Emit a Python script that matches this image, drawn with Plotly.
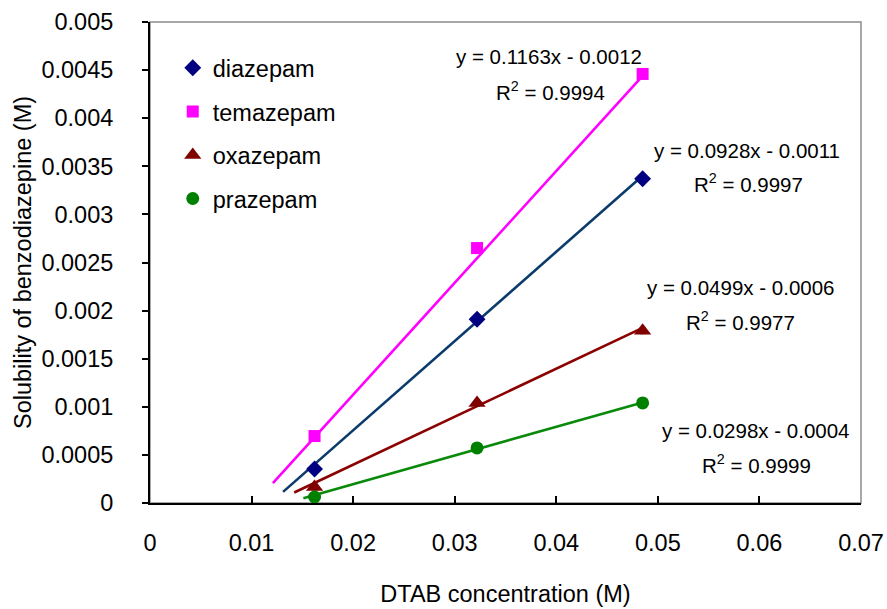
import plotly.graph_objects as go

# DTAB concentrations (M) at which solubility was measured
dtab_conc = [0.0162, 0.0322, 0.0485]

# Measured solubility of each benzodiazepine (M)
diazepam = [0.000353, 0.00191, 0.00337]
temazepam = [0.000696, 0.00265, 0.00446]
oxazepam = [0.000166, 0.00104, 0.00179]
prazepam = [0.0000624, 0.000572, 0.00104]

# Small standard deviations shown as error bars
err = [0.00003, 0.00003, 0.00003]

# Linear fits (slope, intercept, R^2) and the x where each fitted line begins
fit_slope = [0.0928, 0.1163, 0.0499, 0.0298]
fit_intercept = [-0.0011, -0.0012, -0.0006, -0.0004]
fit_r2 = [0.9997, 0.9994, 0.9977, 0.9999]
fit_start = [0.0131, 0.0121, 0.0142, 0.0151]

names = ["diazepam", "temazepam", "oxazepam", "prazepam"]
series = [diazepam, temazepam, oxazepam, prazepam]
marker_colors = ["#000080", "#FF00FF", "#800000", "#008000"]
line_colors = ["#0B3B6B", "#FF00FF", "#8B0000", "#0A8A0A"]
symbols = ["diamond", "square", "triangle-up", "circle"]
sizes = [13, 12, 15, 13]

FONT = "Liberation Sans, Arial, sans-serif"

# Plot-area geometry in pixels, used to place the fit labels in paper units
W, H = 887, 609
L, R, T, B = 150, 861, 22, 503


def px_to_paper(px, py):
    return (px - L) / (R - L), (B - py) / (B - T)


fig = go.Figure()

# Fitted straight lines
for i in range(4):
    xs = [fit_start[i], dtab_conc[-1]]
    ys = [fit_slope[i] * x + fit_intercept[i] for x in xs]
    fig.add_trace(go.Scatter(
        x=xs, y=ys, mode="lines",
        line=dict(color=line_colors[i], width=2.6),
        showlegend=False, hoverinfo="skip",
    ))

# Measured points
for i in range(4):
    fig.add_trace(go.Scatter(
        x=dtab_conc, y=series[i], mode="markers", name=names[i],
        legendgroup=names[i],
        marker=dict(symbol=symbols[i], color=marker_colors[i], size=sizes[i],
                    line=dict(width=0)),
        error_y=dict(type="data", array=err, color="#222222",
                     thickness=1, width=3),
    ))

# Fit equations and R^2 labels
label_pos = [
    ((747, 151), (748, 183)),
    ((549, 57), (550, 91)),
    ((740, 287), (740, 321)),
    ((755, 430), (756, 464)),
]
for i in range(4):
    eq = f"y = {fit_slope[i]:.4f}x - {abs(fit_intercept[i]):.4f}"
    r2 = f"R<sup>2</sup> = {fit_r2[i]:.4f}"
    for text, (px, py) in zip([eq, r2], label_pos[i]):
        xp, yp = px_to_paper(px, py)
        fig.add_annotation(
            x=xp, y=yp, xref="paper", yref="paper", text=text,
            showarrow=False, xanchor="center", yanchor="middle",
            font=dict(family=FONT, size=20.5, color="black"),
        )

# Grey plot-area frame (the black axis lines are drawn over it)
fig.add_shape(type="rect", xref="paper", yref="paper", x0=0, y0=0, x1=1, y1=1,
              line=dict(color="#8C8C8C", width=1.5), layer="below")

fig.update_layout(
    width=W, height=H,
    margin=dict(l=L, r=W - R, t=T, b=H - B, autoexpand=False),
    paper_bgcolor="white", plot_bgcolor="white",
    font=dict(family=FONT, size=23.5, color="black"),
    showlegend=True,
    legend=dict(x=0.032, y=0.95, xanchor="left", yanchor="top",
                font=dict(family=FONT, size=23.5, color="black"),
                bgcolor="rgba(0,0,0,0)", tracegroupgap=10),
    xaxis=dict(
        range=[0, 0.07], tickvals=[0, 0.01, 0.02, 0.03, 0.04, 0.05, 0.06, 0.07],
        ticktext=["0", "0.01", "0.02", "0.03", "0.04", "0.05", "0.06", "0.07"],
        showgrid=False, zeroline=False, automargin=False,
        showline=True, linecolor="black", linewidth=2,
        ticks="inside", ticklen=7, tickwidth=1.5, tickcolor="black",
        ticklabelstandoff=18,
        title=dict(text="DTAB concentration (M)", standoff=30,
                   font=dict(family=FONT, size=23.5)),
    ),
    yaxis=dict(
        range=[0, 0.005],
        tickvals=[0, 0.0005, 0.001, 0.0015, 0.002, 0.0025, 0.003, 0.0035,
                  0.004, 0.0045, 0.005],
        ticktext=["0", "0.0005", "0.001", "0.0015", "0.002", "0.0025", "0.003",
                  "0.0035", "0.004", "0.0045", "0.005"],
        showgrid=False, zeroline=False, automargin=False,
        showline=True, linecolor="black", linewidth=2,
        ticks="outside", ticklen=6, tickwidth=1.5, tickcolor="black",
        ticklabelstandoff=24,
        title=dict(text="Solubility of benzodiazepine (M)", standoff=3,
                   font=dict(family=FONT, size=23.5)),
    ),
)

fig.write_html("out.html")
